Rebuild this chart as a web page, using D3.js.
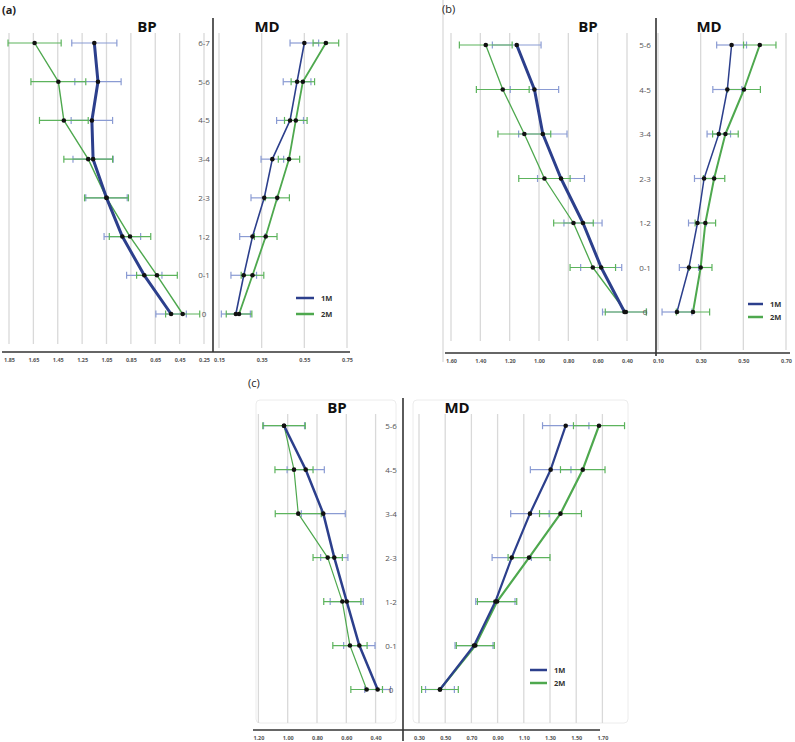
<!DOCTYPE html>
<html><head><meta charset="utf-8">
<script src="https://cdn.jsdelivr.net/npm/d3@7"></script>
<style>
body{margin:0;background:#fff;}
svg{display:block;font-family:"Open Sans","Noto Sans",sans-serif;}
</style></head><body>
<svg id="chart" width="795" height="742"></svg>
<script>
// ---------- DATA ----------
const catsA = ["0","0-1","1-2","2-3","3-4","4-5","5-6","6-7"];
const catsB = ["0","0-1","1-2","2-3","3-4","4-5","5-6"];
const catsC = ["0","0-1","1-2","2-3","3-4","4-5","5-6"];
const seriesNames = ["1M","2M"];

const a_bp_1M     = [0.52, 0.74, 0.92, 1.05, 1.16, 1.17, 1.12, 1.15];
const a_bp_1M_err = [0.125,0.145,0.15, 0.17, 0.165,0.17, 0.19, 0.185];
const a_bp_2M     = [0.425,0.636,0.857,1.05, 1.20, 1.40, 1.445,1.64];
const a_bp_2M_err = [0.14, 0.167,0.17, 0.18, 0.20, 0.20, 0.225,0.218];
const a_md_1M     = [0.229,0.266,0.307,0.362,0.40, 0.483,0.516,0.55];
const a_md_1M_err = [0.068,0.06, 0.06, 0.062,0.053,0.063,0.065,0.067];
const a_md_2M     = [0.244,0.307,0.369,0.423,0.478,0.51, 0.543,0.651];
const a_md_2M_err = [0.06, 0.053,0.053,0.057,0.05, 0.053,0.055,0.06];

const b_bp_1M     = [0.417,0.576,0.70, 0.85, 0.974,1.031,1.152];
const b_bp_1M_err = [0.15, 0.14, 0.13, 0.16, 0.165,0.165,0.166];
const b_bp_2M     = [0.408,0.633,0.765,0.963,1.10, 1.247,1.363];
const b_bp_2M_err = [0.14, 0.155,0.135,0.175,0.18, 0.18, 0.18];
const b_md_1M     = [0.189,0.245,0.285,0.316,0.385,0.425,0.445];
const b_md_1M_err = [0.07, 0.045,0.042,0.045,0.055,0.068,0.07];
const b_md_2M     = [0.264,0.30, 0.322,0.363,0.416,0.503,0.577];
const b_md_2M_err = [0.078,0.053,0.048,0.05, 0.06, 0.077,0.076];

const c_bp_1M     = [0.386,0.511,0.597,0.682,0.757,0.877,1.025];
const c_bp_1M_err = [0.088,0.107,0.113,0.093,0.15, 0.127,0.14];
const c_bp_2M     = [0.461,0.575,0.627,0.727,0.928,0.957,1.025];
const c_bp_2M_err = [0.108,0.117,0.127,0.10, 0.157,0.13, 0.145];
const c_md_1M     = [0.46, 0.72, 0.883,1.008,1.147,1.305,1.42];
const c_md_1M_err = [0.11, 0.145,0.15, 0.15, 0.147,0.155,0.177];
const c_md_2M     = [0.46, 0.73, 0.896,1.14, 1.38, 1.55, 1.674];
const c_md_2M_err = [0.14, 0.145,0.15, 0.16, 0.16, 0.17, 0.195];

const ticksA_bp = [1.85,1.65,1.45,1.25,1.05,0.85,0.65,0.45,0.25];
const ticksA_md = [0.15,0.35,0.55,0.75];
const ticksB_bp = [1.60,1.40,1.20,1.00,0.80,0.60,0.40];
const ticksB_md = [0.10,0.30,0.50,0.70];
const ticksC_bp = [1.20,1.00,0.80,0.60,0.40];
const ticksC_md = [0.30,0.50,0.70,0.90,1.10,1.30,1.50,1.70];

// ---------- STYLE ----------
const BLUE = "#2c3f8c", GREEN = "#4ea84e";
const BLUE_ERR = "#8a9bd3", GREEN_ERR = "#5cb35c";
const svg = d3.select("#chart");

function subplot(o){
  const g = svg.append("g");
  const x = d3.scaleLinear().domain(o.domain).range(o.range);
  const y = d3.scalePoint().domain(o.cats).range(o.yRange);
  // plot box (optional)
  if (o.box) g.append("rect").attr("x",o.box[0]).attr("y",o.box[1]).attr("width",o.box[2]).attr("height",o.box[3])
     .attr("rx",4).attr("fill","none").attr("stroke","#ececec");
  // gridlines
  g.selectAll(".grid").data(o.ticks).enter().append("line")
    .attr("x1",d=>x(d)).attr("x2",d=>x(d)).attr("y1",o.gridY[0]).attr("y2",o.gridY[1])
    .attr("stroke","#d9d9d9").attr("stroke-width",1.3);
  // tick labels via axis
  const ax = g.append("g").attr("transform",`translate(0,${o.axisY})`)
    .call(d3.axisBottom(x).tickValues(o.ticks).tickFormat(d3.format(".2f")).tickSize(0).tickPadding(6));
  ax.select(".domain").remove();
  ax.selectAll("text").attr("font-size",5.5).attr("font-weight","bold").attr("fill","#555").attr("font-family","Open Sans, sans-serif");
  // title
  g.append("text").attr("x",o.titleX).attr("y",o.titleY).attr("text-anchor","middle")
    .attr("font-size",15).attr("font-weight","bold").attr("fill","#111").text(o.title);
  const series = [
    {vals:o.s2, err:o.e2, col:GREEN, ecol:GREEN_ERR, w:o.w2},
    {vals:o.s1, err:o.e1, col:BLUE, ecol:BLUE_ERR, w:o.w1}
  ];
  // error bars
  series.slice().reverse().forEach(s=>{
    const eg = g.append("g").attr("stroke",s.ecol).attr("stroke-width",1.2);
    o.cats.forEach((c,i)=>{
      const yy = y(c), lo = x(s.vals[i]-s.err[i]), hi = x(s.vals[i]+s.err[i]);
      eg.append("line").attr("x1",lo).attr("x2",hi).attr("y1",yy).attr("y2",yy);
      eg.append("line").attr("x1",lo).attr("x2",lo).attr("y1",yy-3.5).attr("y2",yy+3.5);
      eg.append("line").attr("x1",hi).attr("x2",hi).attr("y1",yy-3.5).attr("y2",yy+3.5);
    });
  });
  // lines
  series.forEach(s=>{
    const line = d3.line().x((d,i)=>x(s.vals[i])).y(d=>y(d));
    g.append("path").datum(o.cats).attr("d",line).attr("fill","none")
      .attr("stroke",s.col).attr("stroke-width",s.w).attr("stroke-linejoin","round");
  });
  // points
  series.forEach(s=>{
    g.selectAll(null).data(o.cats).enter().append("circle")
      .attr("cx",(d,i)=>x(s.vals[i])).attr("cy",d=>y(d)).attr("r",2.3).attr("fill","#111");
  });
  return y;
}

function panel(p){
  const y = subplot(p.bp);
  subplot(p.md);
  // category labels
  svg.append("g").selectAll("text").data(p.cats).enter().append("text")
    .attr("x",p.catX).attr("y",d=>y(d)+3).attr("text-anchor","middle")
    .attr("font-size",8).attr("fill","#555").text(d=>d);
  // axes lines
  svg.append("line").attr("x1",p.vAxis[0]).attr("x2",p.vAxis[0]).attr("y1",p.vAxis[1]).attr("y2",p.vAxis[2])
    .attr("stroke","#333").attr("stroke-width",1.6);
  svg.append("line").attr("x1",p.hAxis[0]).attr("x2",p.hAxis[1]).attr("y1",p.hAxis[2]).attr("y2",p.hAxis[2])
    .attr("stroke","#333").attr("stroke-width",1.4);
  // panel label
  svg.append("text").attr("x",p.label[0]).attr("y",p.label[1]).attr("font-size",11)
    .attr("font-weight",p.label[2]).attr("fill","#222").text(p.label[3]);
  // legend
  const lg = svg.append("g");
  [BLUE,GREEN].forEach((c,i)=>{
    const yy = p.legend[1] + i*p.legend[3];
    lg.append("line").attr("x1",p.legend[0]).attr("x2",p.legend[0]+p.legend[2]).attr("y1",yy).attr("y2",yy)
      .attr("stroke",c).attr("stroke-width",2.5);
    lg.append("text").attr("x",p.legend[0]+p.legend[2]+7).attr("y",yy+3).attr("font-size",7.5)
      .attr("font-weight","bold").attr("fill","#333").text(seriesNames[i]);
  });
}

// separator line of panel (b)
svg.append("line").attr("x1",443).attr("x2",443).attr("y1",0).attr("y2",362).attr("stroke","#cfcfcf").attr("stroke-width",1);

// (a)
panel({
  cats:catsA, catX:204, vAxis:[213,18,352], hAxis:[2,350,352], label:[2,14,"bold","(a)"],
  legend:[296,298,18,16],
  bp:{cats:catsA, domain:[1.85,0.25], range:[9,204], yRange:[314,43], ticks:ticksA_bp, gridY:[33,344], axisY:352,
      title:"BP", titleX:147, titleY:32, s1:a_bp_1M, e1:a_bp_1M_err, s2:a_bp_2M, e2:a_bp_2M_err, w1:3, w2:1.4},
  md:{cats:catsA, domain:[0.15,0.75], range:[219,347], yRange:[314,43], ticks:ticksA_md, gridY:[33,348], axisY:352,
      title:"MD", titleX:267, titleY:32, s1:a_md_1M, e1:a_md_1M_err, s2:a_md_2M, e2:a_md_2M_err, w1:1.6, w2:1.8}
});
// (b)
panel({
  cats:catsB, catX:645, vAxis:[656,18,356], hAxis:[445,790,353], label:[442,13,"normal","(b)"],
  legend:[748,304,15,13],
  bp:{cats:catsB, domain:[1.60,0.40], range:[451,627], yRange:[312,45], ticks:ticksB_bp, gridY:[33,341], axisY:353,
      title:"BP", titleX:588, titleY:32, s1:b_bp_1M, e1:b_bp_1M_err, s2:b_bp_2M, e2:b_bp_2M_err, w1:3, w2:1.3},
  md:{cats:catsB, domain:[0.10,0.70], range:[658,786], yRange:[312,45], ticks:ticksB_md, gridY:[33,350], axisY:353,
      title:"MD", titleX:709, titleY:32, s1:b_md_1M, e1:b_md_1M_err, s2:b_md_2M, e2:b_md_2M_err, w1:1.5, w2:2}
});
// (c)
panel({
  cats:catsC, catX:391, vAxis:[403,398,741], hAxis:[253,600,730], label:[248,387,"normal","(c)"],
  legend:[530,670,17,13],
  bp:{cats:catsC, domain:[1.20,0.40], range:[258.4,375.6], yRange:[689.5,425.7], ticks:ticksC_bp, gridY:[414,723], axisY:730,
      box:[256,400,140,323],
      title:"BP", titleX:337, titleY:413, s1:c_bp_1M, e1:c_bp_1M_err, s2:c_bp_2M, e2:c_bp_2M_err, w1:2.5, w2:1.2},
  md:{cats:catsC, domain:[0.30,1.70], range:[419,602.4], yRange:[689.5,425.7], ticks:ticksC_md, gridY:[414,723], axisY:730,
      box:[413,400,215,323],
      title:"MD", titleX:457, titleY:413, s1:c_md_1M, e1:c_md_1M_err, s2:c_md_2M, e2:c_md_2M_err, w1:2.2, w2:2.2}
});
</script>
</body></html>
